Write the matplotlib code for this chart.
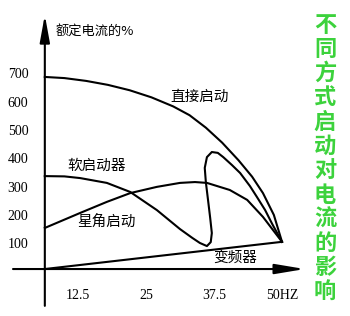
import matplotlib
matplotlib.use("Agg")
from matplotlib import pyplot as plt

plt.rcParams['font.family'] = ['Noto Sans CJK SC', 'DejaVu Sans']

# frequency (Hz) / percent of rated current
direct_x = [6.4, 10, 14, 18, 22, 26, 30, 33, 36, 39, 42, 44.5, 46.5, 48.5, 50]
direct_y = [692, 688, 678, 664, 645, 620, 588, 557, 513, 460, 398, 340, 282, 205, 110]

soft_x = [6.4, 10, 12.9, 17.8, 22.1, 27.0, 31.25, 33.5, 34.9, 36.2, 36.9, 37.1, 36.8, 36.4,
          36.0, 35.8, 36.2, 37.1, 38.2, 39.2, 40.8, 42.3, 44.1, 45.4, 46.9, 48.2, 50]
soft_y = [342, 341, 335, 318, 286, 222, 155, 124, 106, 95, 109, 141, 194, 258,
          321, 371, 409, 427, 424, 409, 381, 353, 307, 268, 222, 173, 110]

star_x = [6.4, 12.9, 17.8, 22.1, 27.0, 31.25, 34.0, 36.2, 40.4, 43.6, 46.5, 50]
star_y = [159, 212, 251, 282, 304, 318, 321, 318, 293, 258, 198, 110]

vfd_x = [6.4, 50]
vfd_y = [14, 110]

x_ticks = [12.5, 25, 37.5, 50]
x_labels = ['12.5', '25', '37.5', '50HZ']
y_ticks = [100, 200, 300, 400, 500, 600, 700]

title_chars = list('不同方式启动对电流的影响')

fig = plt.figure(figsize=(3.5, 3.16), dpi=100)
ax = fig.add_axes([0, 0, 1, 1])
ax.set_xlim(-1.84, 62.5)
ax.set_ylim(-151.8, 963.6)
ax.axis('off')

lw = 1.5
ax.plot(direct_x, direct_y, color='black', lw=lw)
ax.plot(soft_x, soft_y, color='black', lw=lw)
ax.plot(star_x, star_y, color='black', lw=lw)
ax.plot(vfd_x, vfd_y, color='black', lw=lw)

# axes with arrows
ax.annotate('', xy=(6.4, 911), xytext=(6.4, -116),
            arrowprops=dict(arrowstyle='-|>,head_length=1.65,head_width=0.3',
                            mutation_scale=10, color='black', lw=1.5,
                            shrinkA=0, shrinkB=0))
ax.annotate('', xy=(54.2, 14), xytext=(0.55, 14),
            arrowprops=dict(arrowstyle='-|>,head_length=1.8,head_width=0.3',
                            mutation_scale=10, color='black', lw=1.5,
                            shrinkA=0, shrinkB=0))

for t in y_ticks:
    ax.text(1.47, t, str(t), ha='center', va='center', fontsize=10,
            family='Liberation Serif')
for t, lab in zip(x_ticks, x_labels):
    ax.text(t, -78, lab, ha='center', va='center', fontsize=10,
            family='Liberation Serif')

ax.text(8.3, 851, '额定电流的%', ha='left', va='center', fontsize=9.5)
ax.text(34.9, 621, '直接启动', ha='center', va='center', fontsize=10.5)
ax.text(16.0, 378, '软启动器', ha='center', va='center', fontsize=10.5)
ax.text(17.8, 180, '星角启动', ha='center', va='center', fontsize=10.5)
ax.text(41.4, 53, '变频器', ha='center', va='center', fontsize=10.5)

for i, ch in enumerate(title_chars):
    py = 25 + i * 24.3
    ax.text(325 / 350, 1 - py / 316, ch, transform=ax.transAxes, ha='center',
            va='center', fontsize=16, fontweight='bold', color='#3cd23c')

fig.savefig('out.png', dpi=100)
